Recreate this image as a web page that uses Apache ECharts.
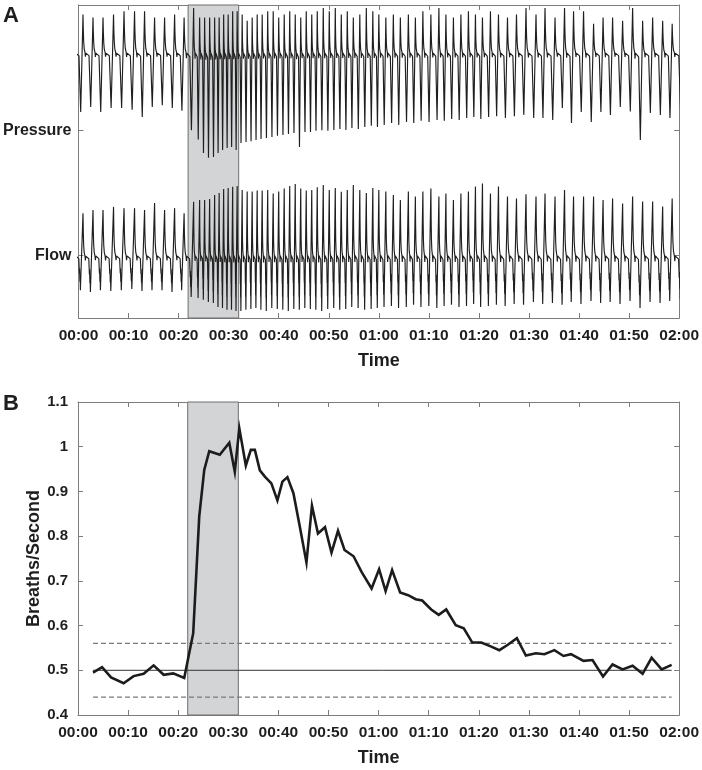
<!DOCTYPE html>
<html>
<head>
<meta charset="utf-8">
<script src="https://cdn.jsdelivr.net/npm/echarts@6/dist/echarts.min.js"></script>
<style>
  html, body { margin: 0; padding: 0; background: #ffffff; }
  #chart { width: 702px; height: 770px; }
</style>
</head>
<body>
<div id="chart"></div>
<script>
// ---------------- DATA ----------------
// Panel A: time (s) of each breath peak; first and last entries lie just outside the 0-120 s window
const breathTimes = [-1.1,
  0.9, 2.9, 4.9, 7.0, 9.1, 11.2, 13.2, 15.2, 17.2, 19.2, 21.1,
  23.0, 24.2, 25.2, 26.2, 27.2, 28.1, 29.0, 29.9, 30.8, 31.7,
  32.7, 33.7, 34.7, 35.7, 36.7, 37.8, 38.9, 40.0, 41.1, 42.2, 43.3, 44.4, 45.5, 46.6, 47.7, 48.9, 50.1, 51.3, 52.5, 53.7, 54.9, 56.2, 57.5, 58.8, 60.0,
  61.4, 62.9, 64.3, 65.9, 67.3, 68.8, 70.4, 72.0, 73.4, 74.9, 76.4, 77.9, 79.3, 80.7, 82.3, 83.9, 85.7, 87.5, 89.4,
  91.4, 93.2, 95.2, 97.1, 98.9, 100.9, 102.9, 104.8, 106.7, 108.7, 110.7, 112.7, 114.7, 116.7, 118.6,
  120.8];
// Pressure trace (arbitrary units): peak of each breath, trough just before each peak, resting plateau
const pressurePeaks = [97,
  97, 96, 96, 97, 98, 98, 98, 96, 96, 97, 96,
  99, 96, 96, 96, 96, 96, 97, 97, 98, 98,
  97, 95, 96, 97, 97, 98, 98, 96, 97, 98, 97, 96, 98, 97, 98, 99, 98, 99, 97, 98, 96, 97, 99, 98, 97,
  96, 97, 96, 97, 96, 98, 97, 99, 97, 96, 97, 98, 97, 96, 98, 97, 96, 97, 99,
  97, 99, 96, 99, 98, 98, 94, 96, 96, 95, 99, 95, 96, 95, 94,
  96];
const pressureTroughs = [66,
  65.8, 67.4, 65.8, 67.1, 67.1, 66.5, 64.2, 67.4, 68.0, 67.1, 66.2,
  60.0, 57.0, 52.7, 51.2, 51.4, 52.7, 53.7, 54.3, 54.6, 53.7,
  55.9, 56.2, 56.5, 56.9, 57.2, 57.5, 57.8, 58.2, 58.5, 58.8, 59.1, 54.6, 59.4, 59.4, 59.8, 60.0, 59.8, 60.1, 60.4, 60.1, 60.7, 60.4, 61.0, 61.4, 61.0,
  61.7, 62.3, 61.7, 62.6, 62.3, 63.0, 62.6, 63.3, 63.0, 63.6, 63.3, 63.9, 64.2, 63.6, 64.2, 64.5, 63.9, 64.5, 64.9,
  63.9, 63.9, 63.3, 67.1, 62.3, 65.8, 62.6, 65.8, 64.9, 67.4, 66.0, 56.9, 65.5, 64.9, 63.9,
  66];
const pressurePlateau = 84.5;
// Flow trace (arbitrary units)
const flowPeaks = [34,
  33.5, 34.5, 34.5, 35.5, 35.1, 35.1, 34.5, 36.7, 34.5, 35.1, 33.5,
  37.1, 37.7, 37.7, 38.0, 39.3, 39.9, 41.2, 41.5, 41.9, 42.2,
  40.9, 40.4, 40.4, 40.7, 40.7, 40.9, 39.8, 40.4, 41.4, 42.2, 42.8, 41.4, 40.7, 40.9, 41.8, 42.5, 40.9, 41.5, 40.3, 40.9, 42.5, 40.9, 39.9, 41.5, 40.9,
  40.4, 39.3, 37.7, 40.4, 38.8, 40.4, 41.4, 38.8, 39.8, 37.7, 39.8, 40.4, 42.0, 43.0, 39.8, 42.0, 38.8, 38.2, 39.5,
  38.8, 39.8, 38.8, 40.9, 38.8, 38.8, 38.8, 37.7, 38.2, 36.6, 38.8, 37.2, 37.2, 35.6, 38.2,
  38];
const flowTroughs = [9,
  8.9, 8.3, 8.9, 8.6, 8.9, 9.3, 8.6, 8.9, 8.9, 8.3, 8.9,
  6.7, 6.4, 5.8, 5.1, 4.8, 3.5, 3.2, 2.6, 2.6, 2.2,
  2.2, 2.6, 2.9, 3.2, 2.6, 2.2, 3.2, 2.9, 2.6, 2.2, 2.9, 2.6, 3.2, 2.9, 2.6, 2.2, 2.9, 3.2, 2.6, 2.9, 3.5, 3.2, 2.6, 2.9, 3.2,
  3.5, 3.8, 3.2, 3.5, 4.2, 3.5, 3.8, 3.2, 3.8, 4.2, 3.5, 3.8, 4.5, 3.5, 3.8, 4.2, 3.8, 4.5, 4.2,
  5.1, 4.5, 4.8, 4.2, 5.1, 4.5, 5.4, 4.8, 5.1, 4.5, 5.4, 3.2, 5.1, 4.8, 5.4,
  6];
const flowPlateau = 19.5;
// Shape of one breath cycle: [fraction of breath interval, level]
// level +1 = peak, 0 = plateau, -1 = trough
const pressureShape = [[0, 1], [0.03, 0.6], [0.07, 0.3], [0.12, 0.12], [0.2, 0.03], [0.24, -0.06], [0.28, 0.01], [0.6, -0.04], [0.69, -0.55], [0.77, -1]];
const flowShape = [[0, 1], [0.03, 0.55], [0.07, 0.25], [0.12, 0.1], [0.2, 0.02], [0.24, -0.1], [0.28, 0.02], [0.58, -0.05], [0.64, -0.5], [0.66, -0.35], [0.69, -0.75], [0.71, -0.55], [0.74, -1], [0.76, -0.8]];
const signalTickValues = [60, 20];
const signalTickNames = ['Pressure', 'Flow'];

// Panel B: breathing rate
const rateTimes = [3.0, 4.8, 6.6, 9.1, 11.1, 13.1, 15.1, 17.1, 19.0, 21.2, 23.0, 24.2, 25.2, 26.2, 28.3, 30.2, 31.3, 32.2, 33.5, 34.5, 35.3, 36.3, 37.3, 38.6, 39.8, 40.8, 41.8, 43.0, 44.3, 45.6, 46.7, 47.9, 49.3, 50.6, 51.9, 53.2, 55.0, 56.6, 58.6, 60.1, 61.4, 62.7, 64.3, 65.9, 67.4, 68.7, 70.5, 72.0, 73.5, 75.4, 77.0, 78.7, 80.5, 82.5, 84.1, 85.8, 87.6, 89.4, 91.4, 93.1, 95.1, 96.9, 98.4, 100.9, 102.7, 104.8, 106.7, 108.7, 110.7, 112.7, 114.5, 116.5, 118.5];
const breathsPerSecond = [0.495, 0.507, 0.484, 0.471, 0.487, 0.492, 0.511, 0.490, 0.493, 0.483, 0.583, 0.844, 0.948, 0.990, 0.982, 1.009, 0.944, 1.041, 0.958, 0.993, 0.993, 0.947, 0.933, 0.918, 0.880, 0.922, 0.932, 0.896, 0.820, 0.741, 0.868, 0.806, 0.820, 0.763, 0.812, 0.769, 0.755, 0.720, 0.683, 0.726, 0.677, 0.724, 0.674, 0.668, 0.659, 0.656, 0.636, 0.624, 0.636, 0.601, 0.594, 0.562, 0.562, 0.553, 0.545, 0.557, 0.572, 0.533, 0.538, 0.536, 0.545, 0.532, 0.536, 0.521, 0.523, 0.486, 0.513, 0.502, 0.510, 0.492, 0.528, 0.502, 0.512];
const baselineRate = 0.5;
const upperLimit = 0.56;
const lowerLimit = 0.44;
const referenceSpan = [3.0, 118.5];

// Shaded interval (s)
const shadeStart = 21.9;
const shadeEnd = 32.0;

// Axes
const timeMin = 0, timeMax = 120, timeStep = 10;
const rateMin = 0.4, rateMax = 1.1, rateStep = 0.1;

// ---------------- BUILD ----------------
function buildWave(times, peaks, troughs, plateau, shape) {
  const pts = [];
  for (let i = 0; i < times.length - 1; i++) {
    const t0 = times[i], T = times[i + 1] - times[i];
    const P = peaks[i], V = troughs[i + 1];
    for (const [f, mix] of shape) {
      const v = mix >= 0 ? plateau + mix * (P - plateau) : plateau + mix * (plateau - V);
      pts.push([t0 + f * T, v]);
    }
  }
  pts.push([times[times.length - 1], peaks[peaks.length - 1]]);
  return pts;
}
const pad = n => (n < 10 ? '0' : '') + n;
const fmtTime = v => pad(Math.floor(v / 60)) + ':' + pad(Math.round(v % 60));

const FONT = '"Liberation Sans", Arial, Helvetica, sans-serif';
const TEXT = '#1e1e1e';
const AXIS = '#7c7c7c';
const SHADE = '#d3d4d6';
const WAVE = '#1f1f1f';

function mkX(grid, pos, labels, name) {
  return {
    type: 'value', gridIndex: grid, position: pos,
    min: timeMin, max: timeMax, interval: timeStep,
    axisLine: { show: true, onZero: false, lineStyle: { color: AXIS, width: 1 } },
    axisTick: { show: true, inside: true, length: 5, lineStyle: { color: AXIS } },
    axisLabel: { show: labels, margin: 10, fontSize: 15.5, fontWeight: 'bold', color: TEXT, fontFamily: FONT, formatter: fmtTime },
    splitLine: { show: false },
    name: name || '', nameLocation: 'middle', nameGap: 34, nameMoveOverlap: false,
    nameTextStyle: { fontSize: 18, fontWeight: 'bold', color: TEXT, fontFamily: FONT }
  };
}
function mkYA(pos, labels) {
  return {
    type: 'value', gridIndex: 0, position: pos, min: 0, max: 100,
    axisLine: { show: true, onZero: false, lineStyle: { color: AXIS, width: 1 } },
    axisTick: { show: true, inside: true, length: 5, customValues: signalTickValues, lineStyle: { color: AXIS } },
    axisLabel: { show: labels, customValues: signalTickValues, margin: 7, fontSize: 16, fontWeight: 'bold', color: TEXT, fontFamily: FONT,
      formatter: v => { const i = signalTickValues.indexOf(v); return i >= 0 ? signalTickNames[i] : ''; } },
    splitLine: { show: false }
  };
}
function mkYB(pos, labels) {
  return {
    type: 'value', gridIndex: 1, position: pos, min: rateMin, max: rateMax, interval: rateStep,
    axisLine: { show: true, onZero: false, lineStyle: { color: AXIS, width: 1 } },
    axisTick: { show: true, inside: true, length: 5, lineStyle: { color: AXIS } },
    axisLabel: { show: labels, margin: 10, fontSize: 15, fontWeight: 'bold', color: TEXT, fontFamily: FONT },
    splitLine: { show: false },
    name: labels ? 'Breaths/Second' : '', nameLocation: 'middle', nameGap: 35, nameRotate: 90, nameMoveOverlap: false,
    nameTextStyle: { fontSize: 18, fontWeight: 'bold', color: TEXT, fontFamily: FONT }
  };
}
const shadeArea = {
  silent: true,
  itemStyle: { color: SHADE, opacity: 1, borderColor: '#6e6e6e', borderWidth: 1 },
  data: [[{ xAxis: shadeStart }, { xAxis: shadeEnd }]]
};

const chart = echarts.init(document.getElementById('chart'), null, { renderer: 'canvas' });
chart.setOption({
  animation: false,
  backgroundColor: '#ffffff',
  textStyle: { fontFamily: FONT },
  grid: [
    { left: 78, right: 22, top: 5, height: 313 },
    { left: 78, right: 22, top: 402, height: 313 }
  ],
  xAxis: [mkX(0, 'bottom', true, 'Time'), mkX(0, 'top', false), mkX(1, 'bottom', true, 'Time'), mkX(1, 'top', false)],
  yAxis: [mkYA('left', true), mkYA('right', false), mkYB('left', true), mkYB('right', false)],
  series: [
    { type: 'line', xAxisIndex: 0, yAxisIndex: 0, data: [], z: 1, markArea: shadeArea },
    { type: 'line', name: 'Pressure', xAxisIndex: 0, yAxisIndex: 0, z: 3, showSymbol: false, symbol: 'none',
      data: buildWave(breathTimes, pressurePeaks, pressureTroughs, pressurePlateau, pressureShape),
      lineStyle: { color: WAVE, width: 1.15 } },
    { type: 'line', name: 'Flow', xAxisIndex: 0, yAxisIndex: 0, z: 3, showSymbol: false, symbol: 'none',
      data: buildWave(breathTimes, flowPeaks, flowTroughs, flowPlateau, flowShape),
      lineStyle: { color: WAVE, width: 1.15 } },
    { type: 'line', xAxisIndex: 2, yAxisIndex: 2, data: [], z: 1, markArea: shadeArea },
    { type: 'line', xAxisIndex: 2, yAxisIndex: 2, z: 2, showSymbol: false, symbol: 'none',
      data: referenceSpan.map(t => [t, upperLimit]), lineStyle: { color: '#7a7a7a', width: 1.3, type: [5, 3] } },
    { type: 'line', xAxisIndex: 2, yAxisIndex: 2, z: 2, showSymbol: false, symbol: 'none',
      data: referenceSpan.map(t => [t, lowerLimit]), lineStyle: { color: '#7a7a7a', width: 1.3, type: [5, 3] } },
    { type: 'line', xAxisIndex: 2, yAxisIndex: 2, z: 2, showSymbol: false, symbol: 'none',
      data: referenceSpan.map(t => [t, baselineRate]), lineStyle: { color: '#333333', width: 1 } },
    { type: 'line', name: 'Breaths/Second', xAxisIndex: 2, yAxisIndex: 2, z: 4, showSymbol: false, symbol: 'none',
      data: rateTimes.map((t, i) => [t, breathsPerSecond[i]]),
      lineStyle: { color: '#1c1c1c', width: 2.6, join: 'miter' } }
  ],
  graphic: [
    { type: 'text', left: 3, top: 5, style: { text: 'A', font: 'bold 22px ' + FONT, fill: TEXT } },
    { type: 'text', left: 3, top: 393, style: { text: 'B', font: 'bold 22px ' + FONT, fill: TEXT } }
  ]
});
</script>
</body>
</html>
